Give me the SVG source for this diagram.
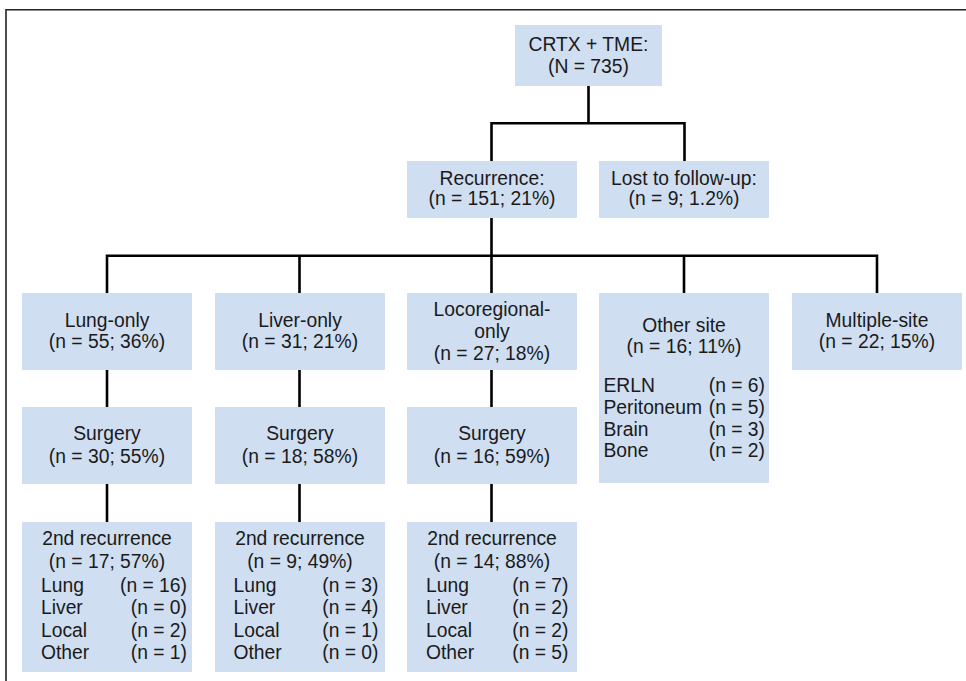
<svg xmlns="http://www.w3.org/2000/svg" width="966" height="681" viewBox="0 0 966 681">
  <style>
    .box { fill: #cfdef1; }
    text { font-family: "Liberation Sans", Arial, sans-serif; font-size: 19.3px; fill: #1a1a1a; }
    .c { text-anchor: middle; }
    .r { text-anchor: end; }
    .conn { fill: none; stroke: #000; stroke-width: 2.6; }
    .frame { fill: none; stroke: #222; stroke-width: 1.6; }
  </style>
  <rect width="966" height="681" fill="#fff"/>
  <path class="frame" d="M6,681 V9.8 H966"/>

  <g id="connectors">
    <path class="conn" d="M588.5,86 V123.3 M491.5,123.3 H684.5 M491.5,122 V161 M684.5,122 V161"/>
    <path class="conn" d="M491.5,218 V255.7 M107,255.7 H877 M107,254.4 V293 M299.5,255.7 V293 M491.5,255.7 V293 M684,255.7 V293 M877,254.4 V293"/>
    <path class="conn" d="M107,370 V407 M299.5,370 V407 M491.5,370 V407"/>
    <path class="conn" d="M107,484 V522 M299.5,484 V522 M491.5,484 V522"/>
  </g>

  <g id="n_root">
    <rect class="box" x="515" y="25" width="147" height="61"/>
    <text class="c" x="588.5" y="51">CRTX + TME:</text>
    <text class="c" x="588.5" y="73">(N = 735)</text>
  </g>

  <g id="n_recurrence">
    <rect class="box" x="407" y="161" width="170" height="57"/>
    <text class="c" x="492" y="185">Recurrence:</text>
    <text class="c" x="492" y="204.5">(n = 151; 21%)</text>
  </g>

  <g id="n_lost">
    <rect class="box" x="599" y="161" width="170" height="57"/>
    <text class="c" x="684" y="185">Lost to follow-up:</text>
    <text class="c" x="684" y="204.5">(n = 9; 1.2%)</text>
  </g>

  <g id="n_lung">
    <rect class="box" x="22" y="293" width="170" height="77"/>
    <text class="c" x="107" y="326.7">Lung-only</text>
    <text class="c" x="107" y="348.3">(n = 55; 36%)</text>
  </g>

  <g id="n_liver">
    <rect class="box" x="215" y="293" width="170" height="77"/>
    <text class="c" x="300" y="326.7">Liver-only</text>
    <text class="c" x="300" y="348.3">(n = 31; 21%)</text>
  </g>

  <g id="n_loco">
    <rect class="box" x="407" y="293" width="170" height="77"/>
    <text class="c" x="492" y="315.5">Locoregional-</text>
    <text class="c" x="492" y="337.5">only</text>
    <text class="c" x="492" y="359.5">(n = 27; 18%)</text>
  </g>

  <g id="n_other">
    <rect class="box" x="599" y="293" width="170" height="190"/>
    <text class="c" x="684" y="331.7">Other site</text>
    <text class="c" x="684" y="353">(n = 16; 11%)</text>
    <text x="603.5" y="391.7">ERLN</text>
    <text class="r" x="765" y="391.7">(n = 6)</text>
    <text x="603.5" y="413.5">Peritoneum</text>
    <text class="r" x="765" y="413.5">(n = 5)</text>
    <text x="603.5" y="435.5">Brain</text>
    <text class="r" x="765" y="435.5">(n = 3)</text>
    <text x="603.5" y="457.3">Bone</text>
    <text class="r" x="765" y="457.3">(n = 2)</text>
  </g>

  <g id="n_multiple">
    <rect class="box" x="792" y="293" width="170" height="77"/>
    <text class="c" x="877" y="326.7">Multiple-site</text>
    <text class="c" x="877" y="348.3">(n = 22; 15%)</text>
  </g>

  <g id="n_surg_lung">
    <rect class="box" x="22" y="407" width="170" height="77"/>
    <text class="c" x="107" y="440">Surgery</text>
    <text class="c" x="107" y="462.7">(n = 30; 55%)</text>
  </g>

  <g id="n_surg_liver">
    <rect class="box" x="215" y="407" width="170" height="77"/>
    <text class="c" x="300" y="440">Surgery</text>
    <text class="c" x="300" y="462.7">(n = 18; 58%)</text>
  </g>

  <g id="n_surg_loco">
    <rect class="box" x="407" y="407" width="170" height="77"/>
    <text class="c" x="492" y="440">Surgery</text>
    <text class="c" x="492" y="462.7">(n = 16; 59%)</text>
  </g>

  <g id="n_rec2_lung">
    <rect class="box" x="22" y="522" width="170" height="150"/>
    <text class="c" x="107" y="545">2nd recurrence</text>
    <text class="c" x="107" y="568">(n = 17; 57%)</text>
    <text x="41" y="591.5">Lung</text>
    <text class="r" x="187" y="591.5">(n = 16)</text>
    <text x="41" y="614">Liver</text>
    <text class="r" x="187" y="614">(n = 0)</text>
    <text x="41" y="636.5">Local</text>
    <text class="r" x="187" y="636.5">(n = 2)</text>
    <text x="41" y="659">Other</text>
    <text class="r" x="187" y="659">(n = 1)</text>
  </g>

  <g id="n_rec2_liver">
    <rect class="box" x="215" y="522" width="170" height="150"/>
    <text class="c" x="300" y="545">2nd recurrence</text>
    <text class="c" x="300" y="568">(n = 9; 49%)</text>
    <text x="233.5" y="591.5">Lung</text>
    <text class="r" x="378.5" y="591.5">(n = 3)</text>
    <text x="233.5" y="614">Liver</text>
    <text class="r" x="378.5" y="614">(n = 4)</text>
    <text x="233.5" y="636.5">Local</text>
    <text class="r" x="378.5" y="636.5">(n = 1)</text>
    <text x="233.5" y="659">Other</text>
    <text class="r" x="378.5" y="659">(n = 0)</text>
  </g>

  <g id="n_rec2_loco">
    <rect class="box" x="407" y="522" width="170" height="150"/>
    <text class="c" x="492" y="545">2nd recurrence</text>
    <text class="c" x="492" y="568">(n = 14; 88%)</text>
    <text x="426" y="591.5">Lung</text>
    <text class="r" x="568.5" y="591.5">(n = 7)</text>
    <text x="426" y="614">Liver</text>
    <text class="r" x="568.5" y="614">(n = 2)</text>
    <text x="426" y="636.5">Local</text>
    <text class="r" x="568.5" y="636.5">(n = 2)</text>
    <text x="426" y="659">Other</text>
    <text class="r" x="568.5" y="659">(n = 5)</text>
  </g>
</svg>
